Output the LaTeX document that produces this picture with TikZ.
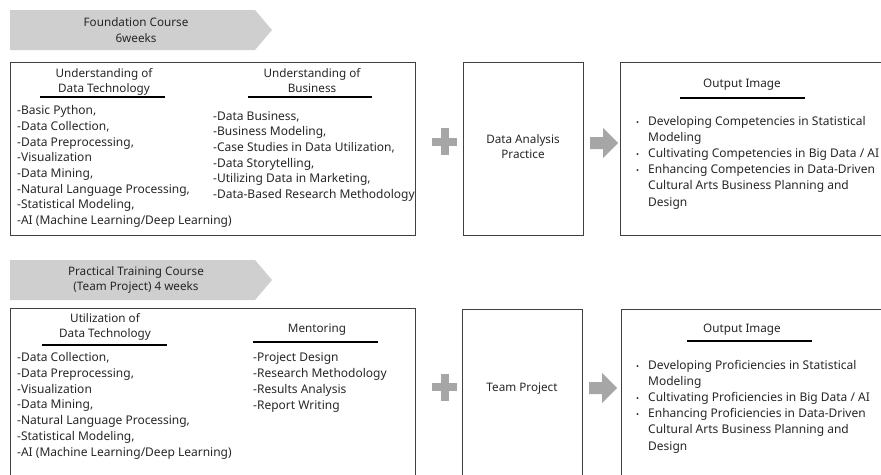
\documentclass[tikz,border=0pt]{standalone}
\usepackage{fontspec}
\setmainfont{Noto Sans}
\usetikzlibrary{calc}

\definecolor{tagfill}{RGB}{208,207,208}
\definecolor{signfill}{RGB}{166,166,166}
\definecolor{boxline}{RGB}{64,64,64}
\definecolor{inkgray}{RGB}{38,38,38}

% course tag: pentagon pointing right, 262 x 40
\newcommand\drawCourseTag[4]{%
\coordinate (#3) at (#1,#2);
\fill[tagfill] (#3) -- ($ (#3) + (245,0) $) -- ($ (#3) + (262,20) $) -- ($ (#3) + (245,40) $) -- ($ (#3) + (0,40) $) -- cycle;
\node[tagtext] (#3text) at ($ (#3) + (126,20) $) {#4};
}
\newcommand\drawPlusSign[3]{%
\coordinate (#3) at (#1,#2);
\fill[signfill] ($ (#3) + (-12.5,-4) $) rectangle ($ (#3) + (12.5,4) $);
\fill[signfill] ($ (#3) + (-4,-13.5) $) rectangle ($ (#3) + (4,13.5) $);
}
\newcommand\drawGrayArrow[3]{%
\coordinate (#3) at (#1,#2);
\fill[signfill] ($ (#3) + (-14,-6) $) -- ($ (#3) + (-1,-6) $) -- ($ (#3) + (-1,-15) $) -- ($ (#3) + (14,0) $)
 -- ($ (#3) + (-1,15) $) -- ($ (#3) + (-1,6) $) -- ($ (#3) + (-14,6) $) -- cycle;
}
\newcommand\bul{\makebox[12pt][l]{\footnotesize\textbullet}}
\newcommand\ind{\hspace*{12pt}}

\begin{document}
\begin{tikzpicture}[x=1pt, y=-1pt,
			every node/.style={text=inkgray, inner sep=0pt},
			tagtext/.style={align=center, font=\fontsize{11.7}{15.5}\selectfont},
			headtext/.style={align=center, anchor=base, font=\fontsize{11.7}{15}\selectfont},
			listtext/.style={align=left, anchor=base west, font=\fontsize{12}{15.7}\selectfont},
			outtext/.style={align=left, anchor=base west, font=\fontsize{12}{16.2}\selectfont},
			boxtext/.style={align=center, font=\fontsize{11.7}{15}\selectfont},
			panel/.style={draw=boxline, line width=0.9pt},
			headrule/.style={black, line width=1.1pt}]

			\clip (0,0) rectangle (881,474);

			% drawing course tags
			\drawCourseTag{10}{10}{found}{Foundation Course\\6weeks}
			\drawCourseTag{10}{260}{practical}{Practical Training Course\\(Team Project) 4 weeks}

			% drawing panels
			\draw[panel] (10,62) rectangle (415,235);
			\draw[panel] (463,62) rectangle (583,235);
			\draw[panel] (620,62) rectangle (900,235);
			\draw[panel] (10,308) rectangle (415,490);
			\draw[panel] (462,309) rectangle (582,490);
			\draw[panel] (621,309) rectangle (900,490);

			% foundation course (lists sit on the baseline of their last line)
			\node[headtext] (techHead) at (104,92) {Understanding of\\Data Technology};
			\draw[headrule] (40,97) -- (165,97);
			\node[listtext] (techList) at (17,224.5) {-Basic Python,\\-Data Collection,\\-Data Preprocessing,\\-Visualization\\-Data Mining,\\-Natural Language Processing,\\-Statistical Modeling,\\-AI (Machine Learning/Deep Learning)};

			\node[headtext] (bizHead) at (312,92) {Understanding of\\Business};
			\draw[headrule] (248,97) -- (372,97);
			\node[listtext] (bizList) at (213,198.5) {-Data Business,\\-Business Modeling,\\-Case Studies in Data Utilization,\\-Data Storytelling,\\-Utilizing Data in Marketing,\\-Data-Based Research Methodology};

			\drawPlusSign{444.5}{141.5}{plusA}
			\node[boxtext] (practice) at (523,147) {Data Analysis\\Practice};
			\drawGrayArrow{604}{143}{arrowA}

			\node[headtext] (outHeadA) at (742,87) {Output Image};
			\draw[headrule] (680,98) -- (805,98);
			\node[outtext] (outListA) at (636,206) {\bul Developing Competencies in Statistical\\\ind Modeling\\\bul Cultivating Competencies in Big Data / AI\\\bul Enhancing Competencies in Data-Driven\\\ind Cultural Arts Business Planning and\\\ind Design};

			% practical training course
			\node[headtext] (utilHead) at (105,337) {Utilization of\\Data Technology};
			\draw[headrule] (42,345) -- (167,345);
			\node[listtext] (utilList) at (17,456) {-Data Collection,\\-Data Preprocessing,\\-Visualization\\-Data Mining,\\-Natural Language Processing,\\-Statistical Modeling,\\-AI (Machine Learning/Deep Learning)};

			\node[headtext] (mentorHead) at (317,332) {Mentoring};
			\draw[headrule] (253,342) -- (378,342);
			\node[listtext] (mentorList) at (253,409) {-Project Design\\-Research Methodology\\-Results Analysis\\-Report Writing};

			\drawPlusSign{444.5}{387}{plusB}
			\node[boxtext] (teamProject) at (522,389) {Team Project};
			\drawGrayArrow{603}{388}{arrowB}

			\node[headtext] (outHeadB) at (742,332) {Output Image};
			\draw[headrule] (687,341) -- (812,341);
			\node[outtext] (outListB) at (636,450) {\bul Developing Proficiencies in Statistical\\\ind Modeling\\\bul Cultivating Proficiencies in Big Data / AI\\\bul Enhancing Proficiencies in Data-Driven\\\ind Cultural Arts Business Planning and\\\ind Design};

		\end{tikzpicture}
\end{document}
